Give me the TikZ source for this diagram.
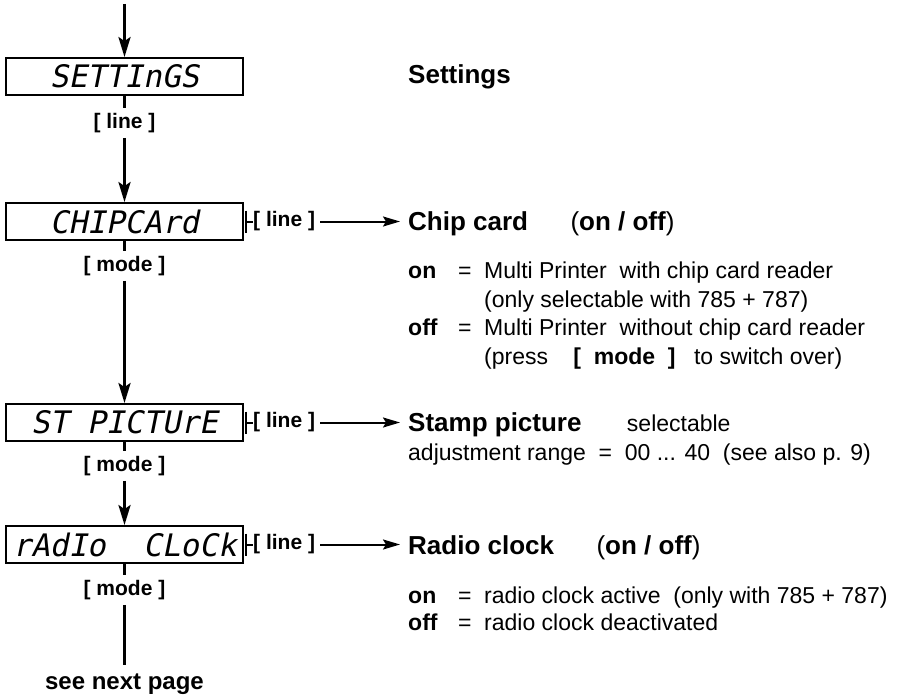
\documentclass[tikz,border=0pt]{standalone}
\usepackage{fontspec}
\setmainfont{Liberation Sans}
\newfontfamily\dispfont[FakeSlant=0.2]{DejaVu Sans Mono}
\usetikzlibrary{arrows.meta}
\tikzset{
  disp/.style={draw, line width=1.8pt, minimum width=237pt, minimum height=37pt, inner sep=0pt, font=\dispfont\fontsize{31}{31}\selectfont},
  keylbl/.style={font=\bfseries\fontsize{21}{21}\selectfont, inner sep=5pt},
  ttl/.style={anchor=base west, font=\bfseries\fontsize{26}{26}\selectfont, inner sep=0pt},
  txt/.style={anchor=base west, font=\fontsize{23}{28}\selectfont, inner sep=0pt},
  vline/.style={line width=3pt},
  varr/.style={vline, -{Stealth[length=20pt,width=12pt,inset=4pt]}},
  hline/.style={line width=2pt},
  harr/.style={hline, -{Stealth[length=17pt,width=10pt,inset=3pt]}},
}
\begin{document}
\begin{tikzpicture}[x=1pt,y=-1pt]
\useasboundingbox (0,0) rectangle (901,695);
% left column
\coordinate (top) at (124.5,4);
\node[disp] (s) at (124.5,76.5) {SETTInGS};
\node[keylbl] (l1) at (124.5,123) {[ line ]};
\node[disp] (c) at (124.5,221.5) {CHIPCArd};
\node[keylbl] (m1) at (124.5,266) {[ mode ]};
\node[disp] (p) at (124.5,422.5) {ST PICTUrE};
\node[keylbl] (m2) at (124.5,466) {[ mode ]};
\node[disp] (r) at (124.5,544.5) {rAdIo\ \ CLoCk};
\node[keylbl] (m3) at (124.5,590) {[ mode ]};
\coordinate (e) at (124.5,665);
\node[font=\bfseries\fontsize{24}{24}\selectfont, inner sep=0pt] (see) at (124.5,684) {see next page};
\draw[varr] (top) -- (s);
\draw[vline] (s) -- (l1);
\draw[varr] (l1) -- (c);
\draw[vline] (c) -- (m1);
\draw[varr] (m1) -- (p);
\draw[vline] (p) -- (m2);
\draw[varr] (m2) -- (r);
\draw[vline] (r) -- (m3);
\draw[vline] (m3) -- (e);
% right: settings
\node[ttl] (set) at (408,84) {Settings};
% chip card
\coordinate (t2) at (246,221.5);
\node[keylbl, anchor=west, inner sep=0pt] (ll2) at (253,221.5) {[ line ]};
\node[ttl] (chip) at (408,230) {Chip card};
\node[ttl] (chipopt) at ([xshift=42pt]chip.base east) {\mdseries(\textbf{on / off})};
\draw[hline] ([yshift=11pt]t2) -- ([yshift=-11pt]t2);
\draw[hline] (t2) -- (ll2.west);
\draw[harr, shorten <=5pt, shorten >=8pt] (ll2.east) -- (ll2.east -| chip.west);
\node[txt] (c1) at (408,278) {\makebox[50pt][l]{\textbf{on}}\makebox[26pt][l]{=}Multi Printer\ \ with chip card reader};
\node[txt] (c2) at (484,307) {(only selectable with 785 + 787)};
\node[txt] (c3) at (408,335) {\makebox[50pt][l]{\textbf{off}}\makebox[26pt][l]{=}Multi Printer\ \ without chip card reader};
\node[txt] (c4) at (484,364) {(press\hspace{1.1em}\textbf{[\ \ mode\ \ ]}\hspace{0.8em}to switch over)};
% stamp picture
\coordinate (t3) at (246,422.5);
\node[keylbl, anchor=west, inner sep=0pt] (ll3) at (253,422.5) {[ line ]};
\node[ttl] (stamp) at (408,431) {Stamp picture};
\node[txt] (sel) at ([xshift=45pt]stamp.base east) {selectable};
\draw[hline] ([yshift=11pt]t3) -- ([yshift=-11pt]t3);
\draw[hline] (t3) -- (ll3.west);
\draw[harr, shorten <=5pt, shorten >=8pt] (ll3.east) -- (ll3.east -| stamp.west);
\node[txt] (s1) at (408,460) {adjustment range\ \ =\ \ 00 ... 40\ \ (see also p. 9)};
% radio clock
\coordinate (t4) at (246,544.5);
\node[keylbl, anchor=west, inner sep=0pt] (ll4) at (253,544.5) {[ line ]};
\node[ttl] (radio) at (408,554) {Radio clock};
\node[ttl] (radioopt) at ([xshift=42pt]radio.base east) {\mdseries(\textbf{on / off})};
\draw[hline] ([yshift=11pt]t4) -- ([yshift=-11pt]t4);
\draw[hline] (t4) -- (ll4.west);
\draw[harr, shorten <=5pt, shorten >=8pt] (ll4.east) -- (ll4.east -| radio.west);
\node[txt] (r1) at (408,603) {\makebox[50pt][l]{\textbf{on}}\makebox[26pt][l]{=}radio clock active\ \ (only with 785 + 787)};
\node[txt] (r2) at (408,630) {\makebox[50pt][l]{\textbf{off}}\makebox[26pt][l]{=}radio clock deactivated};
\end{tikzpicture}
\end{document}
